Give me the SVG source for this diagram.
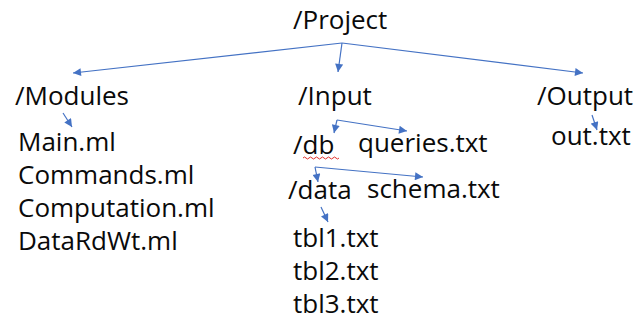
<svg xmlns="http://www.w3.org/2000/svg" width="637" height="320" viewBox="0 0 637 320">
  <style>
    .t { font-family: "Open Sans", "Noto Sans", sans-serif; font-size: 26px; fill: #0a0a0a; }
    .c { stroke: #4472C4; stroke-width: 1.2; fill: none; }
    .squiggle { stroke: #E0302A; stroke-width: 1; fill: none; }
  </style>
  <defs>
    <marker id="arrow" viewBox="0 0 10 10" refX="10" refY="5" markerWidth="9" markerHeight="8" markerUnits="userSpaceOnUse" orient="auto">
      <path d="M0,0 L10,5 L0,10 Z" fill="#4472C4"/>
    </marker>
  </defs>
  <rect width="637" height="320" fill="#fff"/>

  <!-- tree edges -->
  <g id="connectors">
    <path class="c" marker-end="url(#arrow)" d="M342,43 L73,73"/>
    <path class="c" marker-end="url(#arrow)" d="M342,43 L338,72"/>
    <path class="c" marker-end="url(#arrow)" d="M342,43 L583,73"/>
    <path class="c" marker-end="url(#arrow)" d="M63,113 L72,127"/>
    <path class="c" marker-end="url(#arrow)" d="M592,115 L597,130"/>
    <path class="c" marker-end="url(#arrow)" d="M337,120 L334,133"/>
    <path class="c" marker-end="url(#arrow)" d="M337,120 L407,131"/>
    <path class="c" marker-end="url(#arrow)" d="M315,167 L318,182"/>
    <path class="c" marker-end="url(#arrow)" d="M315,167 L423,177"/>
    <path class="c" marker-end="url(#arrow)" d="M321,207 L328,222"/>
  </g>

  <g id="project"><text class="t" x="293" y="29">/Project</text></g>
  <g id="modules"><text class="t" x="15" y="105">/Modules</text></g>
  <g id="input"><text class="t" x="298" y="105">/Input</text></g>
  <g id="output"><text class="t" x="537" y="105">/Output</text></g>

  <g id="main-ml"><text class="t" x="18" y="151">Main.ml</text></g>
  <g id="commands-ml"><text class="t" x="18" y="184">Commands.ml</text></g>
  <g id="computation-ml"><text class="t" x="18" y="217">Computation.ml</text></g>
  <g id="datardwt-ml"><text class="t" x="18" y="250">DataRdWt.ml</text></g>

  <g id="db">
    <text class="t" x="293" y="154">/db</text>
    <path class="squiggle" d="M303,158 q1.5,-2 3,0 t3,0 t3,0 t3,0 t3,0 t3,0 t3,0 t3,0 t3,0 t3,0 t3,0 t3,0"/>
  </g>
  <g id="queries-txt"><text class="t" x="358" y="152">queries.txt</text></g>
  <g id="data"><text class="t" x="288" y="199">/data</text></g>
  <g id="schema-txt"><text class="t" x="367" y="198">schema.txt</text></g>
  <g id="tbl1-txt"><text class="t" x="293" y="247">tbl1.txt</text></g>
  <g id="tbl2-txt"><text class="t" x="293" y="280">tbl2.txt</text></g>
  <g id="tbl3-txt"><text class="t" x="293" y="313">tbl3.txt</text></g>

  <g id="out-txt"><text class="t" x="551" y="145">out.txt</text></g>
</svg>
